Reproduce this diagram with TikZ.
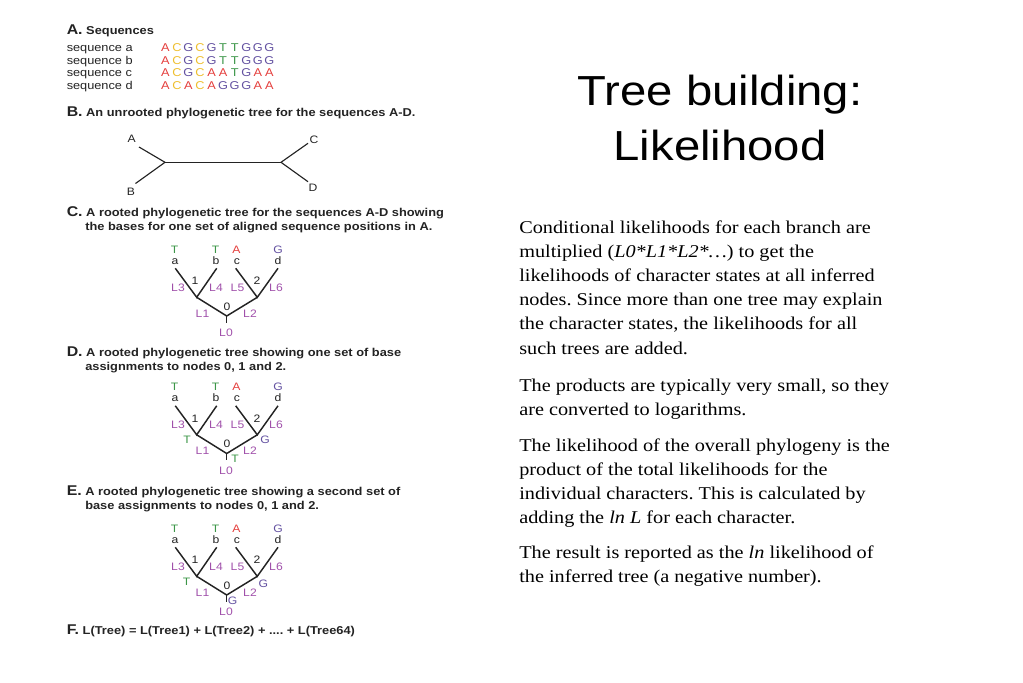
\documentclass[tikz,border=0pt]{standalone}
\usepackage{fontspec}
\setmainfont{Liberation Serif}[FakeStretch=1.125]
\newfontfamily\panelfont{Liberation Sans}[FakeStretch=1.125]
\newfontfamily\titlefont{Liberation Sans}[FakeStretch=1.125]
\frenchspacing
\definecolor{ink}{RGB}{35,35,35}
\definecolor{baseA}{RGB}{228,62,60}
\definecolor{baseC}{RGB}{238,190,45}
\definecolor{baseG}{RGB}{98,80,160}
\definecolor{baseT}{RGB}{60,150,72}
\definecolor{lab}{RGB}{160,80,170}
\tikzset{
  hdr/.style={anchor=base west, inner sep=0pt, text=ink, font=\panelfont\bfseries\fontsize{8.55}{10}\selectfont},
  seqlab/.style={anchor=base west, inner sep=0pt, text=ink, font=\panelfont\fontsize{8.5}{10}\selectfont},
  seqb/.style={anchor=base, inner sep=0pt, font=\panelfont\fontsize{8.5}{10}\selectfont},
  tl/.style={anchor=base, inner sep=0pt, font=\panelfont\fontsize{8.1}{9}\selectfont},
  body/.style={anchor=base west, inner sep=0pt, text=black, font=\fontsize{13.5}{16}\selectfont},
  ttl/.style={anchor=base, inner sep=0pt, text=black, font=\titlefont\fontsize{31.5}{36}\selectfont},
  branch/.style={line width=1.1pt, draw=ink},
}
\newcommand\hdrletter[1]{{\fontsize{10.6}{12}\selectfont #1}}
\newcommand\phytree[2]{%
\begin{scope}[shift={(0,#1)}]
  \node[tl,text=baseT] (#2Ta) at (174.5,253.3) {T};
  \node[tl,text=baseT] (#2Tb) at (215.5,253.3) {T};
  \node[tl,text=baseA] (#2Ac) at (236.5,253.3) {A};
  \node[tl,text=baseG] (#2Gd) at (278,253.3) {G};
  \node[tl,text=ink] (#2a) at (175,264.3) {a};
  \node[tl,text=ink] (#2b) at (216,264.3) {b};
  \node[tl,text=ink] (#2c) at (237,264.3) {c};
  \node[tl,text=ink] (#2d) at (278,264.3) {d};
  \coordinate (#2ta) at (175.3,268.3);
  \coordinate (#2tb) at (216.7,268.3);
  \coordinate (#2tc) at (235.7,268.3);
  \coordinate (#2td) at (278,268.3);
  \coordinate (#2n1) at (196.7,297.3);
  \coordinate (#2n2) at (257.3,297.3);
  \coordinate (#2n0) at (226.7,316);
  \coordinate (#2rt) at (226.7,322.7);
  \draw[branch] (#2ta) -- (#2n1) -- (#2tb);
  \draw[branch] (#2tc) -- (#2n2) -- (#2td);
  \draw[branch] (#2n1) -- (#2n0) -- (#2n2);
  \draw[branch] (#2n0) -- (#2rt);
  \node[tl,text=lab] (#2L3) at (178,291.3) {L3};
  \node[tl,text=ink] (#2one) at (195,284.7) {1};
  \node[tl,text=lab] (#2L4) at (216,291.3) {L4};
  \node[tl,text=lab] (#2L5) at (237.5,291.3) {L5};
  \node[tl,text=ink] (#2two) at (257,284.7) {2};
  \node[tl,text=lab] (#2L6) at (276,291.3) {L6};
  \node[tl,text=lab] (#2L1) at (202.5,317.3) {L1};
  \node[tl,text=ink] (#2zero) at (227,310) {0};
  \node[tl,text=lab] (#2L2) at (250,317.3) {L2};
  \node[tl,text=lab] (#2L0) at (226,336.7) {L0};
\end{scope}}
\begin{document}
\begin{tikzpicture}[x=0.75pt,y=-0.75pt]
\useasboundingbox (0,0) rectangle (1023,682);
% ---------- A ----------
\node[hdr] (hA) at (66.5,34) {\hdrletter{A.} Sequences};
\node[seqlab] (la) at (66.5,51.7) {sequence a};
\node[seqlab] (lb) at (66.5,64.2) {sequence b};
\node[seqlab] (lc) at (66.5,76.7) {sequence c};
\node[seqlab] (ld) at (66.5,89.2) {sequence d};
\foreach \b [count=\i from 0] in {A,C,G,C,G,T,T,G,G,G}
  \node[seqb,text=base\b] (sa\i) at ({165.3+11.56*\i},51.7) {\b};
\foreach \b [count=\i from 0] in {A,C,G,C,G,T,T,G,G,G}
  \node[seqb,text=base\b] (sb\i) at ({165.3+11.56*\i},64.2) {\b};
\foreach \b [count=\i from 0] in {A,C,G,C,A,A,T,G,A,A}
  \node[seqb,text=base\b] (sc\i) at ({165.3+11.56*\i},76.7) {\b};
\foreach \b [count=\i from 0] in {A,C,A,C,A,G,G,G,A,A}
  \node[seqb,text=base\b] (sd\i) at ({165.3+11.56*\i},89.2) {\b};
% ---------- B ----------
\node[hdr] (hB) at (66.5,116.7) {\hdrletter{B.} An unrooted phylogenetic tree for the sequences A-D.};
\node[tl,text=ink] (bA) at (131.7,142) {A};
\node[tl,text=ink] (bB) at (131,195) {B};
\node[tl,text=ink] (bC) at (314,143) {C};
\node[tl,text=ink] (bD) at (313,191) {D};
\coordinate (bAe) at (139,147);
\coordinate (bBe) at (135.5,183.5);
\coordinate (bl) at (165,162.3);
\coordinate (br) at (281,162.3);
\coordinate (bCe) at (308,143.3);
\coordinate (bDe) at (308,181.7);
\draw[branch,line width=0.85pt] (bAe) -- (bl) -- (bBe);
\draw[branch,line width=0.85pt] (bl) -- (br);
\draw[branch,line width=0.85pt] (bCe) -- (br) -- (bDe);
% ---------- C ----------
\node[hdr] (hC1) at (66.5,216.7) {\hdrletter{C.} A rooted phylogenetic tree for the sequences A-D showing};
\node[hdr] (hC2) at (85,230.7) {the bases for one set of aligned sequence positions in A.};
\phytree{0}{C}
% ---------- D ----------
\node[hdr] (hD1) at (66.5,356.7) {\hdrletter{D.} A rooted phylogenetic tree showing one set of base};
\node[hdr] (hD2) at (85,370) {assignments to nodes 0, 1 and 2.};
\phytree{137.5}{D}
\node[tl,text=baseT] (DT1) at ([shift={(-9.7,8.2)}]Dn1) {T};
\node[tl,text=baseG] (DG2) at ([shift={(7.7,8.2)}]Dn2) {G};
\node[tl,text=baseT] (DT0) at ([shift={(8.3,8.5)}]Dn0) {T};
% ---------- E ----------
\node[hdr] (hE1) at (66.5,495) {\hdrletter{E.} A rooted phylogenetic tree showing a second set of};
\node[hdr] (hE2) at (85,509.7) {base assignments to nodes 0, 1 and 2.};
\phytree{279}{E}
\node[tl,text=baseT] (ET1) at ([shift={(-10,9.1)}]En1) {T};
\node[tl,text=baseG] (EG2) at ([shift={(6,10.7)}]En2) {G};
\node[tl,text=baseG] (EG0) at ([shift={(6,9.7)}]En0) {G};
% ---------- F ----------
\node[hdr] (hF) at (66.5,634.3) {\hdrletter{F.} L(Tree) = L(Tree1) + L(Tree2) + .... + L(Tree64)};
% ---------- Title ----------
\node[ttl] (t1) at (720,105) {Tree building:};
\node[ttl] (t2) at (720,160) {Likelihood};
% ---------- Body ----------
\node[body] (p1a) at (519,233) {Conditional likelihoods for each branch are};
\node[body] (p1b) at (519,257.2) {multiplied (\textit{L0*L1*L2*…}) to get the};
\node[body] (p1c) at (519,281.4) {likelihoods of character states at all inferred};
\node[body] (p1d) at (519,305.6) {nodes. Since more than one tree may explain};
\node[body] (p1e) at (519,329.8) {the character states, the likelihoods for all};
\node[body] (p1f) at (519,354) {such trees are added.};
\node[body] (p2a) at (519,391) {The products are typically very small, so they};
\node[body] (p2b) at (519,415.2) {are converted to logarithms.};
\node[body] (p3a) at (519,451) {The likelihood of the overall phylogeny is the};
\node[body] (p3b) at (519,475.2) {product of the total likelihoods for the};
\node[body] (p3c) at (519,499.4) {individual characters. This is calculated by};
\node[body] (p3d) at (519,523.6) {adding the \textit{ln L} for each character.};
\node[body] (p4a) at (519,558.5) {The result is reported as the \textit{ln} likelihood of};
\node[body] (p4b) at (519,582.7) {the inferred tree (a negative number).};
\end{tikzpicture}
\end{document}
